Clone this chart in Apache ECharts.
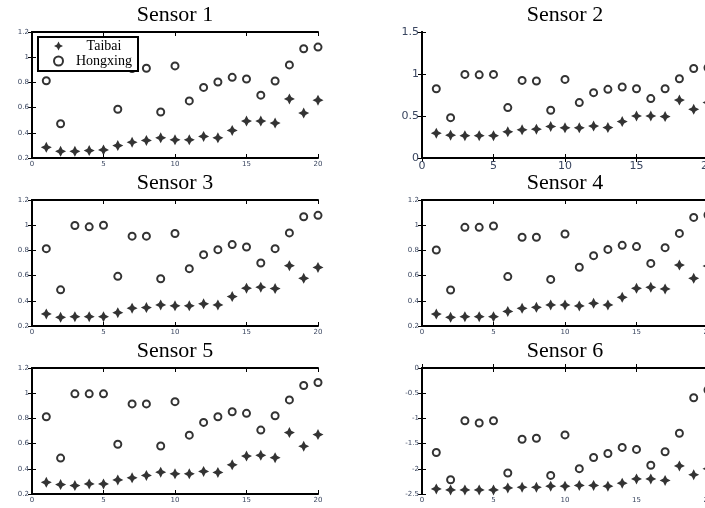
<!DOCTYPE html>
<html>
<head>
<meta charset="utf-8">
<style>html,body{margin:0;padding:0;background:#fff;}#c{width:705px;height:508px;}</style>
<script src="https://cdn.jsdelivr.net/npm/echarts@6/dist/echarts.min.js"></script>
</head>
<body>
<div id="c"></div>
<script>
const sensors = ['Sensor 1','Sensor 2','Sensor 3','Sensor 4','Sensor 5','Sensor 6'];
const xValues = [1,2,3,4,5,6,7,8,9,10,11,12,13,14,15,16,17,18,19,20];
const xTicks = [0,5,10,15,20];
const yRanges = [[0.2,1.2,0.2],[0,1.5,0.5],[0.2,1.2,0.2],[0.2,1.2,0.2],[0.2,1.2,0.2],[-2.5,0,0.5]];

const taibai1 = [0.285,0.253,0.253,0.259,0.264,0.299,0.325,0.339,0.36,0.344,0.344,0.371,0.36,0.419,0.493,0.493,0.477,0.669,0.557,0.659];
const hongxing1 = [0.813,0.472,0.995,0.99,0.995,0.587,0.91,0.912,0.565,0.931,0.653,0.76,0.803,0.84,0.827,0.699,0.811,0.939,1.067,1.08];
const taibai2 = [0.296,0.272,0.265,0.265,0.265,0.312,0.336,0.343,0.375,0.36,0.36,0.38,0.363,0.434,0.5,0.5,0.493,0.69,0.58,0.66];
const hongxing2 = [0.825,0.48,0.995,0.99,0.995,0.6,0.924,0.916,0.568,0.936,0.66,0.778,0.817,0.845,0.825,0.707,0.825,0.944,1.066,1.074];
const taibai3 = [0.296,0.269,0.274,0.274,0.274,0.306,0.341,0.346,0.367,0.36,0.36,0.376,0.367,0.434,0.5,0.508,0.497,0.679,0.578,0.665];
const hongxing3 = [0.814,0.487,0.998,0.987,1.0,0.594,0.913,0.913,0.575,0.934,0.655,0.766,0.806,0.846,0.827,0.7,0.814,0.939,1.067,1.078];
const taibai4 = [0.295,0.269,0.274,0.274,0.274,0.316,0.34,0.348,0.367,0.367,0.359,0.38,0.367,0.428,0.499,0.507,0.494,0.684,0.578,0.676];
const hongxing4 = [0.803,0.486,0.983,0.983,0.994,0.592,0.904,0.904,0.57,0.93,0.666,0.758,0.808,0.84,0.83,0.697,0.822,0.935,1.062,1.081];
const taibai5 = [0.293,0.275,0.267,0.28,0.28,0.312,0.328,0.347,0.373,0.36,0.36,0.379,0.371,0.432,0.501,0.507,0.488,0.688,0.579,0.672];
const hongxing5 = [0.813,0.485,0.995,0.995,0.995,0.595,0.915,0.915,0.581,0.933,0.667,0.768,0.813,0.853,0.84,0.707,0.821,0.947,1.061,1.085];
const taibai6 = [-2.4,-2.42,-2.42,-2.42,-2.42,-2.38,-2.366,-2.366,-2.346,-2.346,-2.33,-2.33,-2.346,-2.285,-2.2,-2.2,-2.23,-1.944,-2.118,-2.0];
const hongxing6 = [-1.676,-2.218,-1.046,-1.092,-1.046,-2.084,-1.414,-1.394,-2.131,-1.327,-1.997,-1.776,-1.696,-1.575,-1.615,-1.93,-1.662,-1.294,-0.59,-0.436];

const taibaiAll = [taibai1,taibai2,taibai3,taibai4,taibai5,taibai6];
const hongxingAll = [hongxing1,hongxing2,hongxing3,hongxing4,hongxing5,hongxing6];

const lefts = [32,422];
const tops = [32,200,368];
const starPath = 'path://M0,-5 L1.7,-1.7 L5,0 L1.7,1.7 L0,5 L-1.7,1.7 L-5,0 L-1.7,-1.7 Z';

const grid = [], xAxis = [], yAxis = [], title = [], series = [];
for (let i = 0; i < 6; i++) {
  const col = i % 2, row = Math.floor(i / 2);
  grid.push({left: lefts[col], top: tops[row], width: 286, height: 126, outerBoundsMode: 'none', containLabel: false});
  title.push({
    text: sensors[i], left: lefts[col] + 143, top: tops[row] - 28, textAlign: 'center', padding: 0,
    textStyle: {fontFamily: 'Liberation Serif', fontSize: 22, fontWeight: 'normal', color: '#000'}
  });
  const fs = (i === 1) ? 11 : 7;
  const line = {show: true, lineStyle: {color: '#000', width: 2}};
  const tick = {show: true, inside: true, length: 4, lineStyle: {color: '#000', width: 1}};
  const lbl = {show: true, fontSize: fs, color: '#3a4660', fontFamily: 'DejaVu Sans', margin: 3};
  xAxis.push({type: 'value', gridIndex: i, min: 0, max: 20, interval: 5, position: 'bottom',
    axisLine: line, axisTick: tick, axisLabel: lbl, splitLine: {show: false}});
  xAxis.push({type: 'value', gridIndex: i, min: 0, max: 20, interval: 5, position: 'top',
    axisLine: line, axisTick: tick, axisLabel: {show: false}, splitLine: {show: false}});
  const r = yRanges[i];
  yAxis.push({type: 'value', gridIndex: i, min: r[0], max: r[1], interval: r[2], position: 'left',
    axisLine: line, axisTick: tick, axisLabel: lbl, splitLine: {show: false}});
  yAxis.push({type: 'value', gridIndex: i, min: r[0], max: r[1], interval: r[2], position: 'right',
    axisLine: line, axisTick: tick, axisLabel: {show: false}, splitLine: {show: false}});
  series.push({
    name: 'Taibai', type: 'scatter', xAxisIndex: 2 * i, yAxisIndex: 2 * i,
    symbol: starPath, symbolSize: 11, itemStyle: {color: '#000'},
    data: xValues.map((x, k) => [x, taibaiAll[i][k]])
  });
  series.push({
    name: 'Hongxing', type: 'scatter', xAxisIndex: 2 * i, yAxisIndex: 2 * i,
    symbol: 'emptyCircle', symbolSize: 7, itemStyle: {color: '#000', borderColor: '#000', borderWidth: 1.8},
    data: xValues.map((x, k) => [x, hongxingAll[i][k]])
  });
}

const chart = echarts.init(document.getElementById('c'), null, {renderer: 'canvas'});
chart.setOption({
  animation: false,
  backgroundColor: '#fff',
  title: title,
  grid: grid,
  xAxis: xAxis,
  yAxis: yAxis,
  legend: {
    data: ['Taibai', 'Hongxing'], orient: 'vertical', left: 38, top: 37,
    backgroundColor: '#fff', borderColor: '#000', borderWidth: 2,
    padding: [2, 6, 3, 15], itemGap: 1, itemWidth: 9, itemHeight: 9, z: 10,
    formatter: '{a|{name}}',
    textStyle: {fontFamily: 'Liberation Serif', fontSize: 14, color: '#000',
      rich: {a: {width: 72, align: 'center', fontFamily: 'Liberation Serif', fontSize: 14, color: '#000'}}}
  },
  series: series
});
</script>
</body>
</html>
